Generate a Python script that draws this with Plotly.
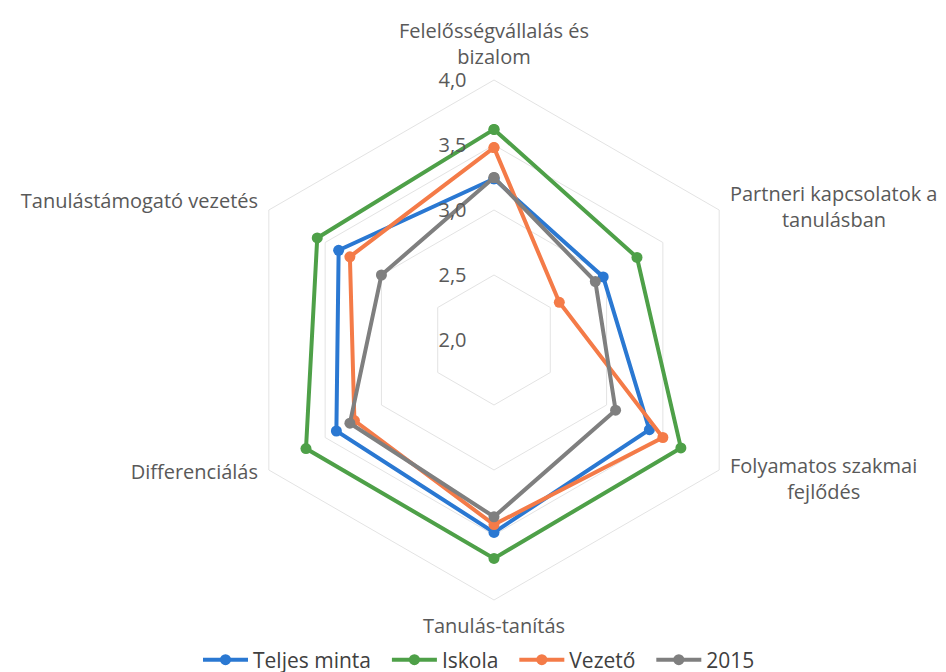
import plotly.graph_objects as go

NB = "\u00a0"
categories = [
    "Felelősségvállalás és<br>bizalom",
    NB + "<br>" + NB + "<br>Partneri kapcsolatok a<br>" + NB * 10 + "tanulásban",
    "Folyamatos szakmai<br>" + NB * 11 + "fejlődés<br>" + NB + "<br>" + NB,
    "Tanulás-tanítás",
    "Differenciálás<br>" + NB + "<br>" + NB,
    "Tanulástámogató vezetés",
]
teljes_minta = [3.24, 2.97, 3.38, 3.48, 3.40, 3.38]
iskola = [3.62, 3.27, 3.66, 3.68, 3.67, 3.57]
vezeto = [3.48, 2.58, 3.50, 3.42, 3.24, 3.28]
ev2015 = [3.25, 2.90, 3.08, 3.36, 3.28, 3.00]

series = [
    ("Teljes minta" + NB * 2, teljes_minta, "#2A78D2"),
    ("Iskola" + NB * 2, iskola, "#4EA048"),
    ("Vezető" + NB * 2, vezeto, "#F47B48"),
    ("2015", ev2015, "#7F7F7F"),
]
tick_vals = [2.0, 2.5, 3.0, 3.5, 4.0]

fig = go.Figure()
for name, vals, col in series:
    fig.add_trace(go.Scatterpolar(
        r=vals + vals[:1],
        theta=categories + categories[:1],
        mode="lines+markers",
        name=name,
        line=dict(color=col, width=4),
        marker=dict(color=col, size=11),
    ))

fig.update_layout(
    width=946, height=672,
    paper_bgcolor="white",
    margin=dict(l=0, r=0, t=0, b=0, autoexpand=False),
    separators=", ",
    font=dict(family="Open Sans, sans-serif", color="#595959", size=20),
    polar=dict(
        bgcolor="white",
        domain=dict(x=[226 / 946, 746 / 946], y=[1 - 592 / 672, 1 - 72 / 672]),
        gridshape="linear",
        angularaxis=dict(
            rotation=90, direction="clockwise",
            showgrid=False, showline=True, linecolor="#E3E3E3", linewidth=1,
            ticks="outside", ticklen=8, tickcolor="rgba(0,0,0,0)",
            tickfont=dict(size=20, color="#595959"),
        ),
        radialaxis=dict(
            range=[2, 4], tickvals=tick_vals, tickformat=".1f",
            showline=False, gridcolor="#E3E3E3", gridwidth=1,
            ticks="outside", ticklen=20, tickcolor="rgba(0,0,0,0)",
            side="counterclockwise", angle=90, tickangle=90,
            tickfont=dict(size=20, color="#595959"),
        ),
    ),
    legend=dict(
        orientation="h", x=471 / 946, xanchor="center", y=20 / 672, yanchor="middle",
        font=dict(size=21, color="#404040"), itemwidth=45,
    ),
)

fig.write_html("out.html")
